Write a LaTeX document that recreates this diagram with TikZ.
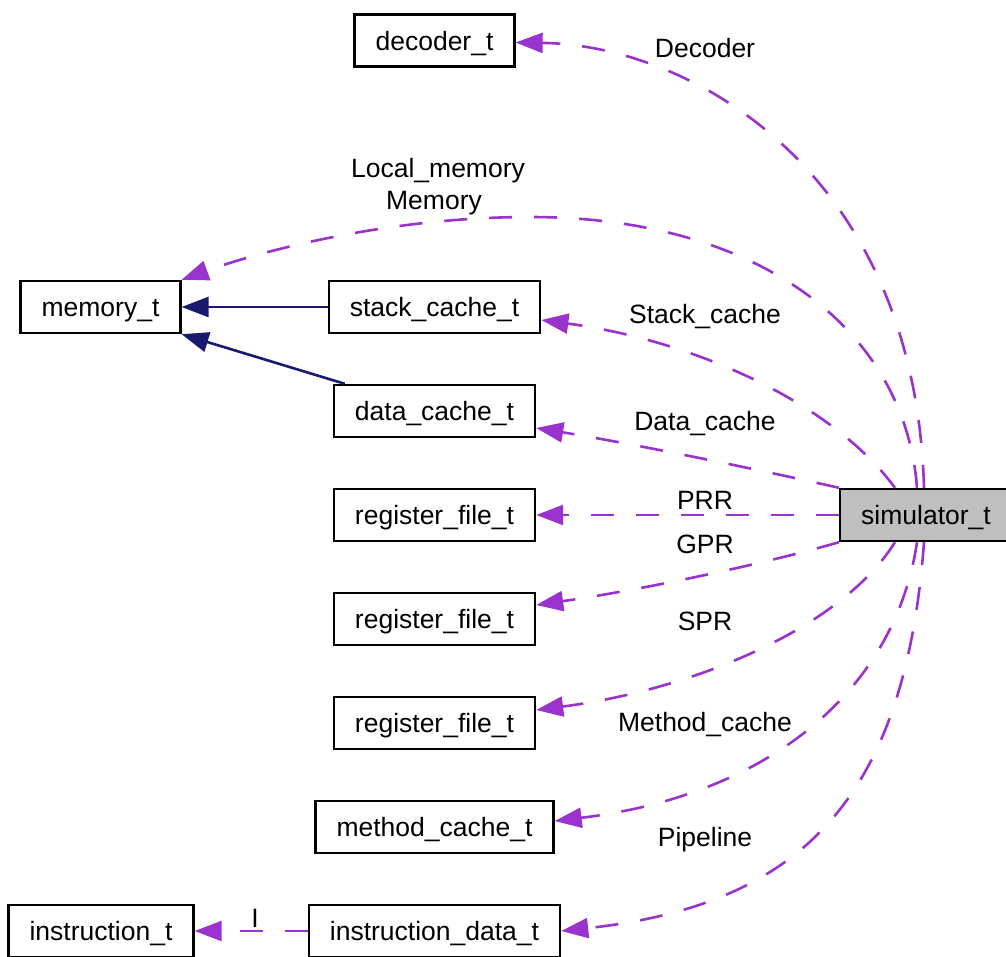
\documentclass[tikz,border=0pt]{standalone}
\usepackage{fontspec}
\setmainfont{Liberation Sans}
\usepackage{tikz}
\usetikzlibrary{positioning, arrows.meta}
\definecolor{depviolet}{HTML}{9A32CD}
\definecolor{inhnavy}{HTML}{191970}
\definecolor{simgray}{HTML}{BFBFBF}

\begin{document}
\begin{tikzpicture}
    [
        x=1pt, y=-1pt, node distance=104pt and 334pt, on grid,
        font=\fontsize{26.5}{30}\selectfont,
        class_node/.style={rectangle, draw=black, line width=2.4pt, minimum height=52pt, text height=19pt, text depth=0pt, inner xsep=21pt, inner ysep=0pt},
        gray_node/.style={class_node, fill=simgray},
        edge_label/.style={inner sep=0pt},
        use_edge/.style={-{Triangle[length=27pt, width=20pt]}, line width=2.6pt, color=depviolet, dash pattern=on 23pt off 22pt},
        inherit_edge/.style={-{Triangle[length=27pt, width=20pt]}, line width=2.6pt, color=inhnavy},
    ]
        \useasboundingbox (0,0) rectangle (1006,956);
        \node[class_node] (stack) at (434.5,307) {stack\_cache\_t} ;
        \node[class_node] (decoder) [above = 266.5pt of stack] {decoder\_t} ;
        \node[class_node] (memory) [left = of stack] {memory\_t} ;
        \node[class_node] (dcache) [below = of stack] {data\_cache\_t} ;
        \node[class_node] (prr) [below = of dcache] {register\_file\_t} ;
        \node[class_node] (gpr) [below = of prr] {register\_file\_t} ;
        \node[class_node] (spr) [below = of gpr] {register\_file\_t} ;
        \node[class_node] (mcache) [below = of spr] {method\_cache\_t} ;
        \node[class_node] (idata) [below = of mcache] {instruction\_data\_t} ;
        \node[class_node] (instr) [left = 333.5pt of idata] {instruction\_t} ;
        \node[gray_node] (sim) [right = 491.5pt of prr] {simulator\_t} ;
        \node[edge_label] (l_decoder) at (705,48) {Decoder} ;
        \node[edge_label] (l_local) at (438,171) {Local\_memory} ;
        \node[edge_label] (l_memory) at (434,203) {Memory} ;
        \node[edge_label] (l_stack) at (705,317) {Stack\_cache} ;
        \node[edge_label] (l_dcache) at (705,424) {Data\_cache} ;
        \node[edge_label] (l_prr) at (705,500) {PRR} ;
        \node[edge_label] (l_gpr) at (705,544) {GPR} ;
        \node[edge_label] (l_spr) at (705,621) {SPR} ;
        \node[edge_label] (l_mcache) at (705,725) {Method\_cache} ;
        \node[edge_label] (l_pipe) at (705,840) {Pipeline} ;
        \node[edge_label] (l_instr) at (255,918) {I} ;
        \draw[inherit_edge] (stack) to (memory) ;
        \draw[inherit_edge] ([xshift=12pt]dcache.north west) to (memory.south east) ;
        \draw[use_edge] ([xshift=-2pt]sim.north) .. controls (915,170) and (690,45) .. ([yshift=-2pt]decoder.east) ;
        \draw[use_edge] ([xshift=-9pt]sim.north) .. controls (905,330) and (760,217) .. (530,217) .. controls (380,217) and (250,255) .. (memory.north east) ;
        \draw[use_edge] ([xshift=-31pt]sim.north) .. controls (830,400) and (690,340) .. ([yshift=-13pt]stack.east) ;
        \draw[use_edge] (sim.north west) .. controls (760,470) and (640,445) .. ([yshift=-17pt]dcache.east) ;
        \draw[use_edge] (sim) to (prr) ;
        \draw[use_edge] (sim.south west) .. controls (760,565) and (640,590) .. ([yshift=14pt]gpr.east) ;
        \draw[use_edge] ([xshift=-31pt]sim.south) .. controls (840,630) and (690,690) .. ([yshift=13pt]spr.east) ;
        \draw[use_edge] ([xshift=-9pt]sim.south) .. controls (895,690) and (770,795) .. ([yshift=6pt]mcache.east) ;
        \draw[use_edge] ([xshift=-2pt]sim.south) .. controls (905,800) and (800,905) .. (idata.east) ;
        \draw[use_edge] (idata) to (instr) ;
    \end{tikzpicture}
\end{document}
